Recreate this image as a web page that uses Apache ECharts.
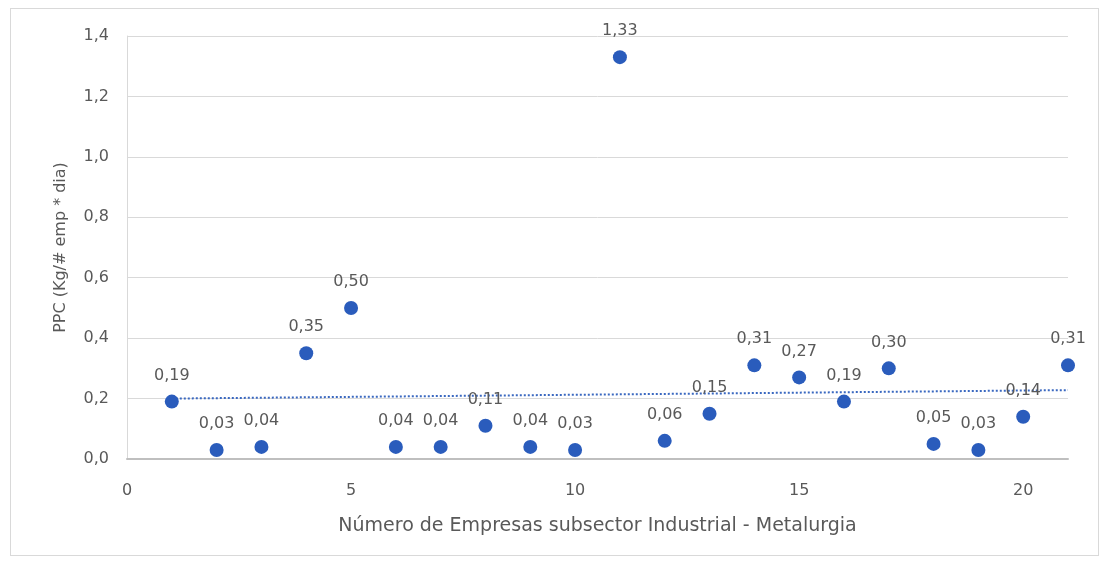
<!DOCTYPE html>
<html>
<head>
<meta charset="utf-8">
<script src="https://cdn.jsdelivr.net/npm/echarts@6/dist/echarts.min.js"></script>
<style>
  html, body { margin: 0; padding: 0; background: #fff; }
  #frame { position: absolute; left: 10px; top: 8px; width: 1089px; height: 548px; border: 1px solid #d9d9d9; box-sizing: border-box; }
  #chart { position: absolute; left: 0; top: 0; width: 1109px; height: 565px; }
</style>
</head>
<body>
<div id="frame"></div>
<div id="chart"></div>
<script>
// Company index along the x axis
const empresas = [1, 2, 3, 4, 5, 6, 7, 8, 9, 10, 11, 12, 13, 14, 15, 16, 17, 18, 19, 20, 21];
// PPC per company (Kg / # emp * dia)
const ppc = [0.19, 0.03, 0.04, 0.35, 0.50, 0.04, 0.04, 0.11, 0.04, 0.03, 1.33, 0.06, 0.15, 0.31, 0.27, 0.19, 0.30, 0.05, 0.03, 0.14, 0.31];
// Linear trend line end points
const trendX = [1, 21];
const trendY = [0.200, 0.228];

const fmt = v => v.toFixed(2).replace('.', ',');
const textColor = '#595959';
const fontFamily = '"DejaVu Sans", "Noto Sans", sans-serif';

const chart = echarts.init(document.getElementById('chart'), null, { renderer: 'canvas' });
chart.setOption({
  animation: false,
  textStyle: { fontFamily: fontFamily },
  grid: { left: 127, right: 41, top: 36, bottom: 106 },
  xAxis: {
    type: 'value',
    min: 0,
    max: 21,
    interval: 5,
    name: 'Número de Empresas subsector Industrial - Metalurgia',
    nameLocation: 'middle',
    nameGap: 58,
    nameTextStyle: { color: textColor, fontSize: 19, fontFamily: fontFamily },
    axisLine: { show: true, lineStyle: { color: '#bfbfbf', width: 2 } },
    axisTick: { show: false },
    splitLine: { show: false },
    axisLabel: {
      color: textColor, fontSize: 16, margin: 24,
      formatter: v => (v % 5 === 0 ? String(v) : '')
    }
  },
  yAxis: {
    type: 'value',
    min: 0,
    max: 1.4,
    interval: 0.2,
    name: 'PPC (Kg/# emp * dia)',
    nameLocation: 'middle',
    nameGap: 58,
    nameTextStyle: { color: textColor, fontSize: 16, fontFamily: fontFamily },
    axisLine: { show: true, lineStyle: { color: '#d9d9d9', width: 1 } },
    axisTick: { show: false },
    splitLine: { show: true, lineStyle: { color: '#d9d9d9', width: 1 } },
    axisLabel: {
      color: textColor, fontSize: 16, margin: 18,
      formatter: v => v.toFixed(1).replace('.', ',')
    }
  },
  series: [
    {
      type: 'line',
      data: trendX.map((x, i) => [x, trendY[i]]),
      symbol: 'none',
      lineStyle: { color: '#3a68c0', width: 2, type: 'dotted' },
      z: 2,
      silent: true
    },
    {
      type: 'scatter',
      data: empresas.map((x, i) => [x, ppc[i]]),
      symbol: 'circle',
      symbolSize: 14,
      itemStyle: { color: '#2a5cbc', opacity: 1 },
      z: 3,
      label: {
        show: true,
        position: 'top',
        distance: 11,
        color: textColor,
        fontSize: 16,
        formatter: p => fmt(p.value[1])
      }
    }
  ]
});
</script>
</body>
</html>
